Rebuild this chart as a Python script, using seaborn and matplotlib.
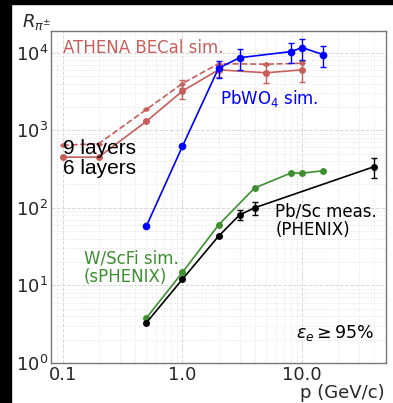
import numpy as np
import pandas as pd
import matplotlib
matplotlib.use("Agg")
import matplotlib.pyplot as plt
import seaborn as sns
from matplotlib.patches import Rectangle
from matplotlib.ticker import FixedLocator, FixedFormatter, LogLocator

sns.set_style("white")
plt.rcParams['font.family'] = ['DejaVu Sans']
plt.rcParams['mathtext.fontset'] = 'dejavusans'

# data
pbwo4_p = [0.5, 1.0, 2.0, 3.0, 8.0, 10.0, 15.0]
pbwo4_r = [58, 620, 6300, 8600, 10300, 11600, 9400]
pbwo4_err = [0, 0, 1600, 2700, 3000, 3600, 2800]

becal6_p = [0.1, 0.2, 0.5, 1.0, 2.0, 5.0, 10.0]
becal6_r = [450, 450, 1300, 3200, 6000, 5500, 6000]
becal6_err = [0, 0, 0, 700, 1200, 1400, 1800]

becal9_p = [0.1, 0.2, 0.5, 1.0, 2.0, 5.0, 10.0]
becal9_r = [640, 670, 1850, 4000, 7200, 7100, 7300]
becal9_err = [0, 0, 0, 500, 0, 0, 0]

wscfi_p = [0.5, 1.0, 2.0, 4.0, 8.0, 10.0, 15.0]
wscfi_r = [3.8, 14.7, 60, 180, 280, 280, 300]

pbsc_p = [0.5, 1.0, 2.0, 3.0, 4.0, 40.0]
pbsc_r = [3.3, 12, 43, 81, 100, 340]
pbsc_err = [0, 0, 0, 12, 20, 100]

red = "#c65f5b"
green = "#3d8f30"

fig = plt.figure(figsize=(3.93, 4.03), dpi=100)
fig.patch.set_facecolor("white")
# black frame strips on the left and top of the original picture
fig.patches.append(Rectangle((0, 0), 11 / 393, 1, transform=fig.transFigure, color="black", zorder=-1))
fig.patches.append(Rectangle((0, 1 - 4 / 403), 1, 4 / 403, transform=fig.transFigure, color="black", zorder=-1))

ax = fig.add_axes([51 / 393, 40 / 403, 335 / 393, 332 / 403])
ax.set_xscale("log")
ax.set_yscale("log")
ax.set_xlim(0.08, 50)
ax.set_ylim(1, 1.9e4)

ax.grid(True, which="major", linestyle="--", color="#d8d8d8", linewidth=0.7)
ax.grid(True, which="minor", linestyle=":", color="#e2e2e2", linewidth=0.7)
ax.set_axisbelow(True)

# lines through seaborn
df6 = pd.DataFrame({"p": becal6_p, "r": becal6_r})
df9 = pd.DataFrame({"p": becal9_p, "r": becal9_r})
dfw = pd.DataFrame({"p": wscfi_p, "r": wscfi_r})
dfb = pd.DataFrame({"p": pbsc_p, "r": pbsc_r})
dfp = pd.DataFrame({"p": pbwo4_p, "r": pbwo4_r})

sns.lineplot(data=df9, x="p", y="r", ax=ax, color=red, linestyle="--", linewidth=1.2,
             marker="o", markersize=3.5, markeredgewidth=0)
sns.lineplot(data=df6, x="p", y="r", ax=ax, color=red, linewidth=1.2,
             marker="o", markersize=5, markeredgewidth=0)
sns.lineplot(data=dfw, x="p", y="r", ax=ax, color=green, linewidth=1.2,
             marker="o", markersize=5, markeredgewidth=0)
sns.lineplot(data=dfb, x="p", y="r", ax=ax, color="black", linewidth=1.2,
             marker="o", markersize=5, markeredgewidth=0)
sns.lineplot(data=dfp, x="p", y="r", ax=ax, color="blue", linewidth=1.2,
             marker="o", markersize=5.5, markeredgewidth=0)

ax.errorbar(becal9_p, becal9_r, yerr=becal9_err, fmt="none", ecolor=red, elinewidth=1, capsize=2)
ax.errorbar(becal6_p, becal6_r, yerr=becal6_err, fmt="none", ecolor=red, elinewidth=1, capsize=2)
ax.errorbar(pbsc_p, pbsc_r, yerr=pbsc_err, fmt="none", ecolor="black", elinewidth=1, capsize=2)
ax.errorbar(pbwo4_p, pbwo4_r, yerr=pbwo4_err, fmt="none", ecolor="blue", elinewidth=1, capsize=2)

ax.xaxis.set_major_locator(FixedLocator([0.1, 1.0, 10.0]))
ax.xaxis.set_major_formatter(FixedFormatter(["0.1", "1.0", "10.0"]))
ax.xaxis.set_minor_locator(LogLocator(base=10, subs=np.arange(2, 10)))
ax.yaxis.set_major_locator(LogLocator(base=10, numticks=10))
ax.yaxis.set_minor_locator(LogLocator(base=10, subs=np.arange(2, 10), numticks=10))
ax.tick_params(axis="both", which="major", labelsize=13, direction="in", length=3, color="#777777", pad=2)
ax.tick_params(axis="both", which="minor", direction="in", length=0)
ax.tick_params(axis="x", which="minor", labelbottom=False)
ax.set_xlabel("")
ax.set_ylabel("")
for s in ax.spines.values():
    s.set_color("#777777")
    s.set_linewidth(1.0)

ax.text(0.1, 1.15e4, "ATHENA BECal sim.", color=red, fontsize=12, ha="left", va="center")
ax.text(2.04, 2600, "PbWO$_4$ sim.", color="blue", fontsize=12, ha="left", va="center")
ax.text(0.15, 17, "W/ScFi sim.\n(sPHENIX)", color=green, fontsize=12, ha="left", va="center",
        linespacing=1.0)
ax.text(5.96, 68, "Pb/Sc meas.\n(PHENIX)", color="black", fontsize=12, ha="left", va="center",
        linespacing=1.0)
ax.text(40, 2.45, r"$\varepsilon_e \geq 95\%$", color="black", fontsize=12.5, ha="right", va="center")
ax.text(0.1, 584, "9 layers", color="black", fontsize=15, ha="left", va="center",
        family=["Liberation Sans", "DejaVu Sans"])
ax.text(0.1, 321, "6 layers", color="black", fontsize=15, ha="left", va="center",
        family=["Liberation Sans", "DejaVu Sans"])

fig.text(22 / 393, 1 - 22 / 403, r"$R_{\pi^{\pm}}$", fontsize=13, ha="left", va="center")
fig.text(385 / 393, 1 - 393 / 403, "p (GeV/c)", fontsize=13, ha="right", va="center")

fig.savefig("out.png", dpi=100, facecolor=fig.get_facecolor())
